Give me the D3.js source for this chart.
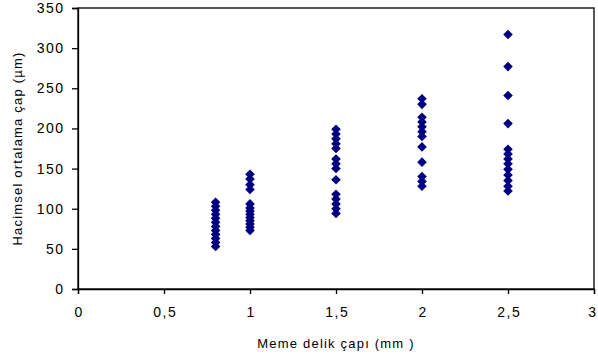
<!DOCTYPE html>
<html>
<head>
<meta charset="utf-8">
<script src="https://cdn.jsdelivr.net/npm/d3@7"></script>
<style>
  body { margin: 0; background: #fff; }
  text { font-family: "Liberation Sans", Arial, sans-serif; fill: #000; }
</style>
</head>
<body>
<div id="chart"></div>
<script>
// nozzle hole diameters (mm) and measured volume mean diameters (µm)
const diameters = [0.8, 1.0, 1.5, 2.0, 2.5];
const values08 = [108, 103, 98, 93, 88, 83, 78, 73, 68, 63, 58, 53];
const values10 = [143, 137, 130, 124, 106, 101, 97, 93, 89, 85, 81, 77, 73];
const values15 = [199, 193, 187, 181, 175, 162, 156, 150, 136, 118, 112, 106, 100, 94];
const values20 = [237, 230, 214, 208, 202, 196, 190, 177, 158, 140, 134, 128];
const values25 = [317, 277, 241, 206, 174, 168, 162, 156, 149, 142, 135, 128, 122];
const xTicks = [0, 0.5, 1, 1.5, 2, 2.5, 3];
const yTicks = [0, 50, 100, 150, 200, 250, 300, 350];

const allValues = [values08, values10, values15, values20, values25];
const points = [];
diameters.forEach((d, i) => {
    allValues[i].forEach(v => points.push({ x: d, y: v }));
});

const width = 598, height = 361;
const plotLeft = 78, plotRight = 594, plotTop = 8, plotBottom = 289;

const svg = d3.select("#chart")
    .append("svg")
    .attr("width", width)
    .attr("height", height);

const x = d3.scaleLinear().domain([0, 3]).range([plotLeft, plotRight]);
const y = d3.scaleLinear().domain([0, 350]).range([plotBottom, plotTop]);

const fmt = d => String(d).replace(".", ",");

// frame
svg.append("rect")
    .attr("x", plotLeft).attr("y", plotTop)
    .attr("width", plotRight - plotLeft).attr("height", plotBottom - plotTop)
    .attr("fill", "none")
    .attr("stroke", "#000")
    .attr("stroke-width", 1.3);

const xAxis = svg.append("g")
    .attr("transform", `translate(0,${plotBottom})`)
    .call(d3.axisBottom(x).tickValues(xTicks).tickSize(5).tickPadding(13).tickFormat(fmt));

const yAxis = svg.append("g")
    .attr("transform", `translate(${plotLeft},0)`)
    .call(d3.axisLeft(y).tickValues(yTicks).tickSize(6).tickPadding(7.5));

[xAxis, yAxis].forEach(g => {
    g.select(".domain").attr("stroke", "#000").attr("stroke-width", 1.3);
    g.selectAll(".tick line").attr("stroke", "#000").attr("stroke-width", 1.3);
    g.selectAll(".tick text")
        .style("font-family", "'Liberation Sans', Arial, sans-serif")
        .style("font-size", "14px")
        .style("letter-spacing", "1.5px")
        .attr("fill", "#000");
});
// centre the spaced x labels again, keep the last one inside the page
xAxis.selectAll(".tick text").attr("dx", (d, i) => i === xTicks.length - 1 ? "-1.5px" : "0.75px");

// diamond markers
const r = 4.8;
svg.append("g")
    .selectAll("path")
    .data(points)
    .join("path")
    .attr("transform", d => `translate(${x(d.x)},${y(d.y)})`)
    .attr("d", `M0,${-r}L${r},0L0,${r}L${-r},0Z`)
    .attr("fill", "#000080");

svg.append("text")
    .attr("x", (plotLeft + plotRight) / 2)
    .attr("y", 348)
    .attr("text-anchor", "middle")
    .style("font-size", "13px")
    .style("letter-spacing", "1.2px")
    .text("Meme delik çapı (mm )");

svg.append("text")
    .attr("transform", `translate(22,${(plotTop + plotBottom) / 2}) rotate(-90)`)
    .attr("text-anchor", "middle")
    .style("font-size", "13px")
    .style("letter-spacing", "1.2px")
    .text("Hacimsel ortalama çap (µm)");
</script>
</body>
</html>
